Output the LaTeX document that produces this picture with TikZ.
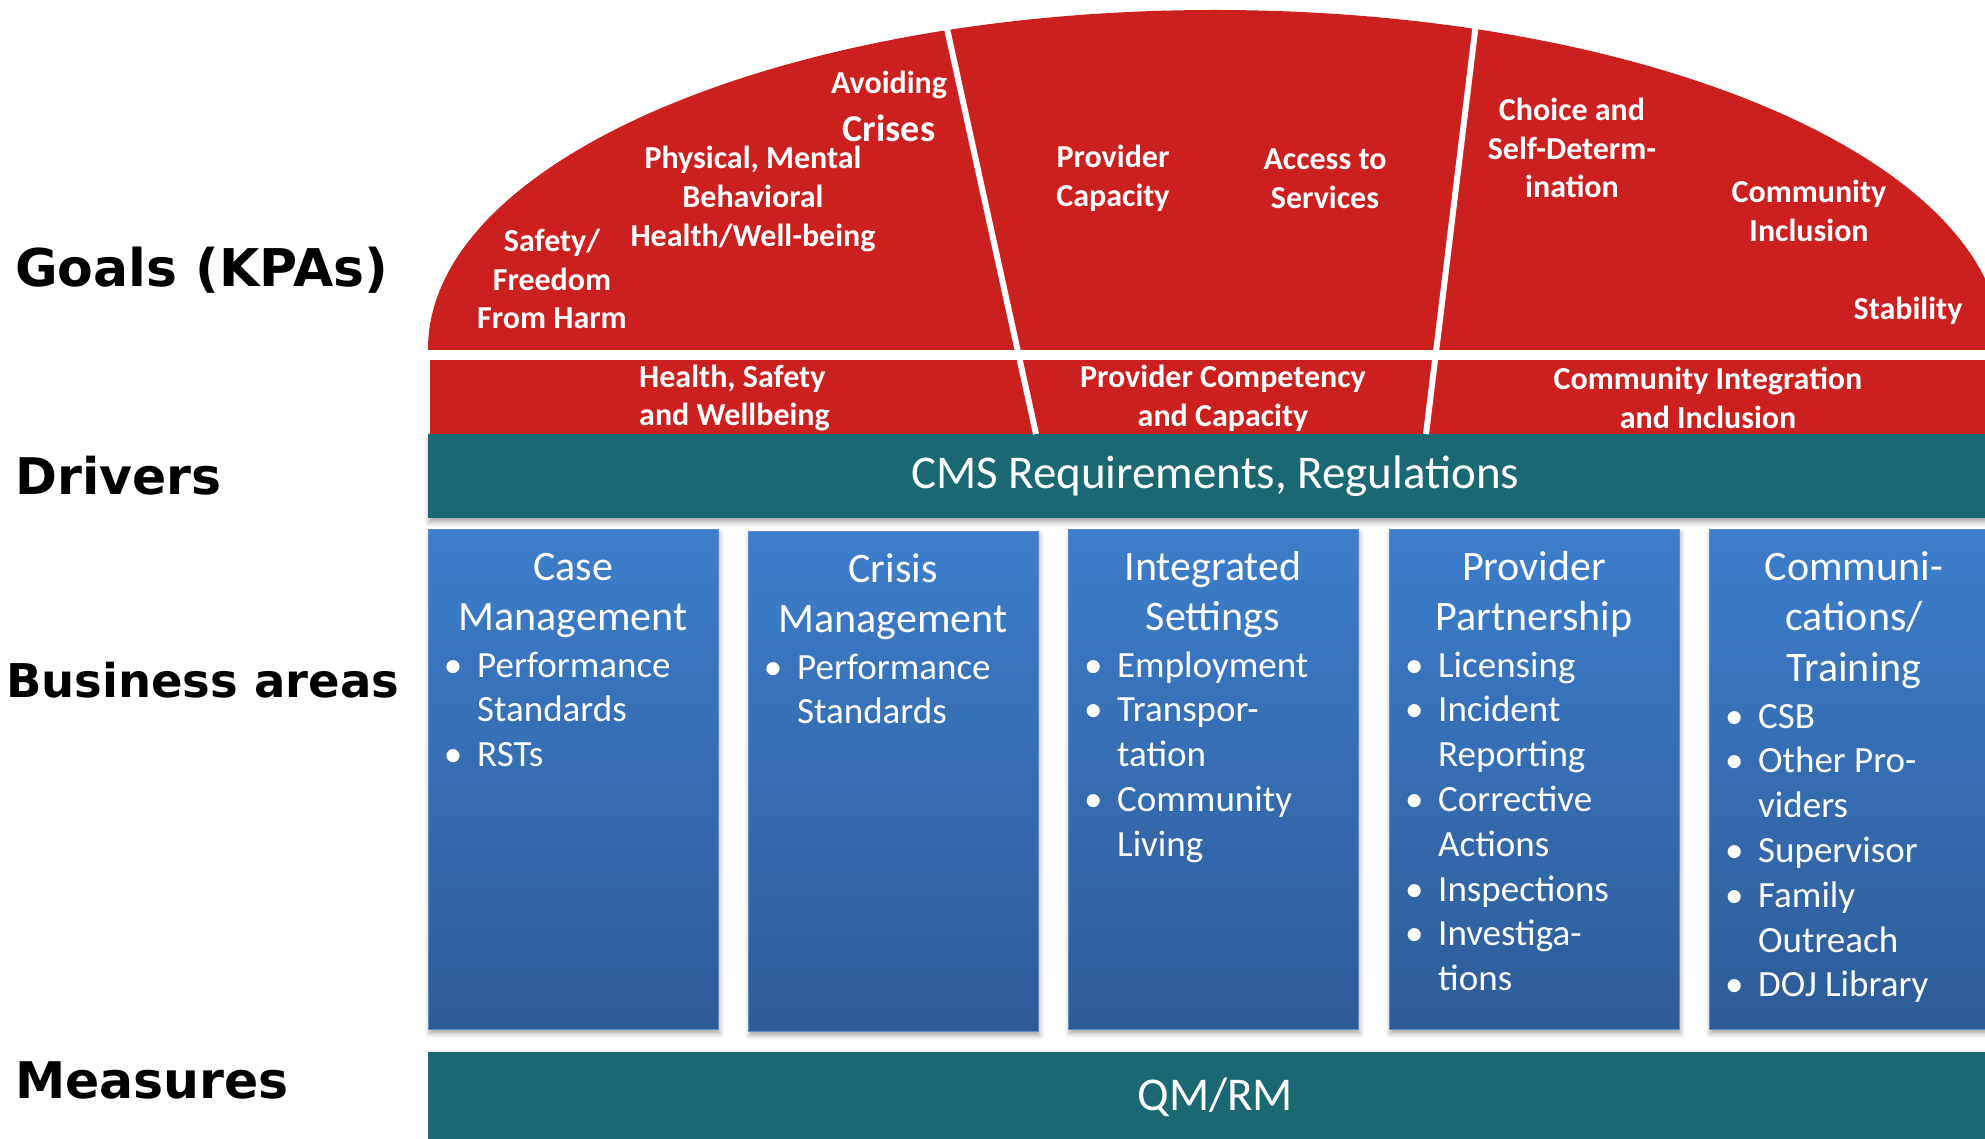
\documentclass[tikz,border=0pt]{standalone}
\usepackage{fontspec}
\setmainfont{Carlito}
\newfontfamily\labelfont{DejaVu Sans Bold}
\usetikzlibrary{shadows.blur}

\definecolor{kpared}{RGB}{204,32,30}
\definecolor{driverteal}{RGB}{26,104,114}
\definecolor{areatop}{RGB}{60,126,203}
\definecolor{areabottom}{RGB}{45,92,152}
\definecolor{areaedge}{RGB}{92,140,208}

\tikzset{
  rowlabel/.style={anchor=west, inner sep=0pt, font=\labelfont\fontsize{50.5}{58}\selectfont},
  goaltext/.style={text=white, align=center, inner sep=0pt, font=\bfseries\fontsize{32}{38.6}\selectfont},
  band/.style={anchor=north west, fill=driverteal, draw=none, inner sep=0pt, text=white,
    font=\fontsize{47}{56}\selectfont},
  areabox/.style={anchor=north west, minimum width=290pt, minimum height=500pt, inner sep=0pt,
    top color=areatop, bottom color=areabottom, draw=areaedge, line width=1pt,
    blur shadow={shadow xshift=1pt, shadow yshift=-4pt, shadow blur radius=5pt, shadow opacity=35}},
  % multi-line nodes: the base anchor sits on the baseline of the last line
  areatitle/.style={anchor=base, text=white, align=center, inner sep=0pt, font=\fontsize{42}{50.6}\selectfont},
  arealist/.style={anchor=base west, text=white, align=left, inner sep=0pt, font=\fontsize{37}{44.8}\selectfont},
  divider/.style={white, line width=6pt},
}
\newcommand{\itm}{\llap{\makebox[48pt]{\textbullet}}}

\begin{document}
\begin{tikzpicture}[x=1pt,y=1pt]
\useasboundingbox (0,0) rectangle (1985,-1139);
\clip (0,0) rectangle (1985,-1139);

% dome of goals: upper half of an ellipse
\begin{scope}
  \clip (0,0) rectangle (1985,-349);
  \fill[kpared] (1215,-349) ellipse [x radius=787pt, y radius=339pt];
\end{scope}

% key performance areas band
\node[anchor=north west, fill=kpared, draw=white, line width=1.5pt, minimum width=1600pt,
      minimum height=76pt, inner sep=0pt] (kpaband) at (428,-358) {};

% drivers band
\node[band, minimum width=1574pt, minimum height=84pt,
      blur shadow={shadow xshift=1pt, shadow yshift=-4pt, shadow blur radius=5pt, shadow opacity=35}]
      (drivers) at (428,-434) {CMS Requirements, Regulations};

% dividers between the three goal groups
\coordinate (d1top) at (944,-15);
\coordinate (d1bot) at (1036,-434);
\coordinate (d2top) at (1477,-15);
\coordinate (d2bot) at (1426,-434);
\draw[divider] (d1top) -- (d1bot);
\draw[divider] (d2top) -- (d2bot);

% goals
\node[goaltext] (safety) at (552,-279) {Safety/\\Freedom\\From Harm};
\node[goaltext] (wellbeing) at (753,-199) {Physical, Mental\\Behavioral\\Health/Well-being};
\node[goaltext] (avoid1) at (889,-85) {Avoiding};
\node[goaltext, font=\bfseries\fontsize{38}{44}\selectfont] (avoid2) at (889,-128) {Crises};
\node[goaltext] (provcap) at (1113,-178) {Provider\\Capacity};
\node[goaltext] (access) at (1325,-179) {Access to\\Services};
\node[goaltext] (choice) at (1572,-148) {Choice and\\Self-Determ-\\ination};
\node[goaltext] (inclusion) at (1809,-211) {Community\\Inclusion};
\node[goaltext] (stability) at (1908,-311) {Stability};

% key performance areas
\node[goaltext, align=left, anchor=west] (hsw) at (639,-398) {Health, Safety\\and Wellbeing};
\node[goaltext] (pcc) at (1223,-398) {Provider Competency\\and Capacity};
\node[goaltext] (cii) at (1708,-398) {Community Integration\\and Inclusion};

% business areas
\node[areabox] (box1) at (428,-529) {};
\node[areabox] (box2) at (748,-531) {};
\node[areabox] (box3) at (1068,-529) {};
\node[areabox] (box4) at (1389,-529) {};
\node[areabox] (box5) at (1709,-529) {};

\node[areatitle] (t1) at (573,-630.6) {Case\\Management};
\node[arealist] (l1) at (477,-766.6) {\itm Performance\\Standards\\\itm RSTs};

\node[areatitle] (t2) at (893,-632.6) {Crisis\\Management};
\node[arealist] (l2) at (797,-723.8) {\itm Performance\\Standards};

\node[areatitle] (t3) at (1213,-630.6) {Integrated\\Settings};
\node[arealist] (l3) at (1117,-856.2) {\itm Employment\\\itm Transpor-\\tation\\\itm Community\\Living};

\node[areatitle] (t4) at (1534,-630.6) {Provider\\Partnership};
\node[arealist] (l4) at (1438,-990.6) {\itm Licensing\\\itm Incident\\Reporting\\\itm Corrective\\Actions\\\itm Inspections\\\itm Investiga-\\tions};

\node[areatitle] (t5) at (1854,-681.2) {Communi-\\cations/\\Training};
\node[arealist] (l5) at (1758,-996.8) {\itm CSB\\\itm Other Pro-\\viders\\\itm Supervisor\\\itm Family\\Outreach\\\itm DOJ Library};

% measures band
\node[band, minimum width=1574pt, minimum height=90pt] (measures) at (428,-1052) {QM/RM};

% row labels
\node[rowlabel, font=\labelfont\fontsize{52}{60}\selectfont] (lgoals) at (15,-270) {Goals (KPAs)};
\node[rowlabel] (ldrivers) at (15,-476) {Drivers};
\node[rowlabel, font=\labelfont\fontsize{46.5}{54}\selectfont] (lbusiness) at (6,-680) {Business areas};
\node[rowlabel] (lmeasures) at (15,-1080) {Measures};
\end{tikzpicture}
\end{document}
